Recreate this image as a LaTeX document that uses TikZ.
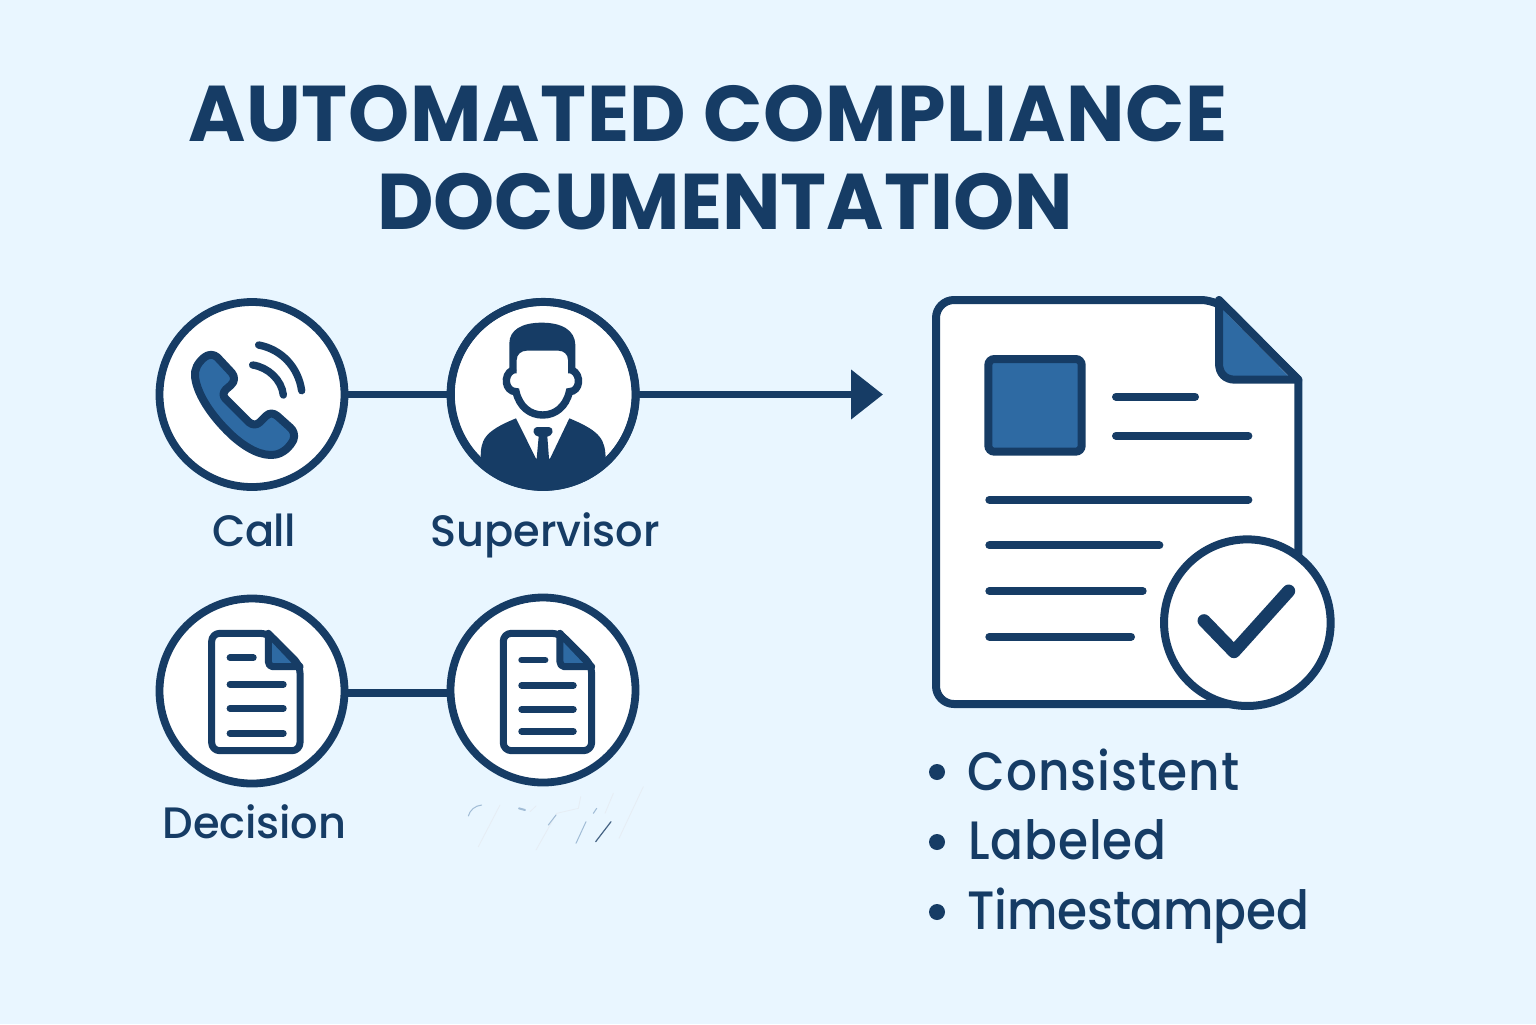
\documentclass[tikz,border=0pt]{standalone}
\usepackage{fontspec}
\setmainfont{Poppins}
\newfontfamily\titlefont{Poppins Bold}[FakeStretch=0.985]
\newfontfamily\labelfont{Poppins Medium}[FakeStretch=0.98]
\newfontfamily\itemfont{Poppins Medium}[FakeStretch=0.9]
\usetikzlibrary{arrows.meta}
\definecolor{bgc}{HTML}{E9F6FF}
\definecolor{ink}{HTML}{163C65}
\definecolor{midblue}{HTML}{2E6AA3}
\tikzset{
  px/.style={x=0.5pt,y=-0.5pt},
  zoomA/.style={x=0.16667pt,y=-0.16667pt,shift={(70pt,-140pt)}},
  zoomB/.style={x=0.16667pt,y=-0.16667pt,shift={(70pt,-290pt)}},
  zoomC/.style={x=0.16667pt,y=-0.16667pt,shift={(460pt,-142.5pt)}},
  zoomD/.style={x=0.16667pt,y=-0.16667pt,shift={(225pt,-390pt)}},
  ring/.style={circle,draw=ink,fill=white,line width=3.9pt,minimum size=92.5pt,inner sep=0pt,outer sep=0pt},
  conn/.style={draw=ink,line width=3.9pt},
  rule/.style={draw=ink,line cap=round},
  titletext/.style={text=ink,font=\titlefont\fontsize{39.5}{40}\selectfont,inner sep=0pt,anchor=base},
  lab/.style={text=ink,font=\labelfont\fontsize{22}{22}\selectfont,inner sep=0pt,anchor=base},
  itemtext/.style={text=ink,font=\itemfont\fontsize{27}{27}\selectfont,inner sep=0pt,anchor=base west},
  bullet/.style={circle,fill=ink,minimum size=8pt,inner sep=0pt},
  faintA/.style={draw=midblue!12,line width=0.4pt,line cap=round},
  faintB/.style={draw=midblue!45,line width=0.5pt,line cap=round},
  faintC/.style={draw=ink!80,line width=0.6pt,line cap=round}
}
\newcommand{\smalldoc}[1]{%
  \begin{scope}[xshift=#1]
    \draw[ink,fill=white,line width=3.5pt,rounded corners=4pt,line join=round]
      (215,160) -- (385,160) -- (480,255) -- (480,512) -- (215,512) -- cycle;
    \fill[midblue] (388,172) -- (470,255) -- (388,255) -- cycle;
    \draw[ink,line width=3.5pt,line join=round] (385,160) -- (385,245) to[out=-90,in=180] (398,260) -- (480,260) -- cycle;
  \end{scope}}
\begin{document}
\begin{tikzpicture}[px]
\useasboundingbox[fill=bgc] (0,0) rectangle (1536,1024);

\node[titletext] (title1) at (708,141) {\addfontfeature{LetterSpace=0.9}AUTOMATED COMPLIANCE};
\node[titletext] (title2) at (725,229) {DOCUMENTATION};

\node[ring] (call) at (252,394.5) {};
\node[ring] (sup)  at (543,394.5) {};
\node[ring] (dec)  at (252,691) {};
\node[ring] (rec)  at (543,690) {};
\coordinate (tip) at (883,394.5);
\draw[conn] (call) -- (sup);
\draw[conn] ([yshift=-1pt]dec.east) -- ([yshift=-1.5pt]rec.west);
\draw[conn,-{Triangle[length=16pt,width=24pt]}] (sup.east) -- (tip);

% phone
\begin{scope}[zoomA]
  \draw[ink,fill=midblue,line width=4pt,line join=round]
    (232,232) .. controls (222,222) and (205,222) .. (193,232)
    .. controls (172,250) and (163,268) .. (165,290)
    .. controls (172,350) and (225,420) .. (280,470)
    .. controls (320,505) and (365,530) .. (405,524)
    .. controls (430,520) and (450,500) .. (460,480)
    .. controls (466,465) and (460,450) .. (450,442)
    -- (412,408) .. controls (400,398) and (388,398) .. (378,408)
    -- (360,426) .. controls (350,436) and (338,436) .. (326,426)
    -- (258,358) .. controls (248,348) and (248,338) .. (258,328)
    -- (272,316) .. controls (285,305) and (285,290) .. (275,278) -- cycle;
  \draw[ink,line width=3.7pt,line cap=round] (338,255) .. controls (385,262) and (425,300) .. (430,345);
  \draw[ink,line width=3.7pt,line cap=round] (356,195) .. controls (425,208) and (475,262) .. (485,332);

  % person
  \begin{scope}
    \clip (1210,343) circle (279);
    \fill[ink] (1022,536) .. controls (1022,480) and (1030,455) .. (1128,415) -- (1188,536)
      -- (1190,536) -- (1196,470) .. controls (1180,468) and (1172,445) .. (1192,441) -- (1226,441)
      .. controls (1246,445) and (1238,468) .. (1222,470) -- (1227,536)
      -- (1230,536) -- (1288,415) .. controls (1385,455) and (1395,480) .. (1397,536)
      -- (1500,536) -- (1500,660) -- (920,660) -- (920,536) -- cycle;
  \end{scope}
  \draw[ink,line width=3.9pt] (1210,343) circle (277.5);
  \fill[ink] (1108,280) -- (1108,190) .. controls (1108,150) and (1145,128) .. (1205,128)
    .. controls (1265,128) and (1305,150) .. (1306,195) -- (1306,280) -- (1284,280) -- (1284,240)
    .. controls (1284,222) and (1270,212) .. (1255,212) -- (1160,212)
    .. controls (1145,212) and (1130,222) .. (1130,240) -- (1130,280) -- cycle;
  \draw[ink,line width=3.7pt,line cap=round]
    (1118,270) .. controls (1088,285) and (1095,335) .. (1128,335)
    .. controls (1138,380) and (1170,405) .. (1208,405)
    .. controls (1246,405) and (1278,380) .. (1288,335)
    .. controls (1320,335) and (1326,285) .. (1296,270);
\end{scope}

% small documents
\begin{scope}[zoomB]
  \smalldoc{0pt}
  \foreach \a/\b/\yy in {270/340/233,270/430/313,270/430/385,270/430/460}
    \draw[rule,line width=3.4pt] (\a,\yy) -- (\b,\yy);
  \smalldoc{145.8pt}
  \foreach \a/\b/\yy in {1145/1215/240,1145/1300/316,1145/1300/388,1145/1300/454}
    \draw[rule,line width=3.4pt] (\a,\yy) -- (\b,\yy);
\end{scope}

% smudge below the fourth circle
\begin{scope}[zoomD]
  \draw[faintB] (55,108) .. controls (60,90) and (75,77) .. (95,75);
  \draw[faintA] (85,200) -- (150,75);
  \draw[faintB,line width=1pt] (207,85) -- (225,90);
  \draw[faintA] (240,95) -- (258,78);
  \draw[faintA] (258,210) -- (320,100) -- (385,85) -- (392,50);
  \draw[faintB] (295,135) -- (318,105);
  \draw[faintB] (378,190) -- (408,125);
  \draw[faintC] (437,185) -- (483,125);
  \draw[faintB] (430,100) -- (440,85);
  \draw[faintA] (465,100) -- (490,40);
  \draw[faintA] (507,175) -- (580,20);
\end{scope}

% large document
\begin{scope}[zoomC]
  \draw[ink,fill=white,line width=4pt,line join=round,rounded corners=9pt]
    (1000,1257) -- (48,1257) -- (48,45) -- (897,45) [sharp corners] -- (1135,285) -- (1135,1000) -- cycle;
  \fill[midblue] (905,70) -- (1110,278) -- (945,278) .. controls (920,278) and (905,260) .. (905,235) -- cycle;
  \draw[ink,line width=4pt,line join=round] (897,45) -- (897,235) .. controls (897,265) and (915,284) .. (945,284) -- (1135,284) -- cycle;
  \draw[ink,fill=midblue,line width=4pt,rounded corners=3pt] (205,222) rectangle (485,500);
  \foreach \a/\b/\yy in {588/825/335,588/985/452,208/985/644,208/718/781,208/668/918,208/633/1055}
    \draw[rule,line width=4pt] (\a,\yy) -- (\b,\yy);
  \node[circle,draw=ink,fill=white,line width=4pt,minimum size=83.3pt,inner sep=0pt] (check) at (982,1013) {};
  \draw[ink,line width=6.5pt,line cap=round,line join=round] (852,1007) -- (942,1100) -- (1106,918);
\end{scope}

% labels
\node[lab] (l1) at (254,546) {\addfontfeature{LetterSpace=-1.5}Call};
\node[lab] (l2) at (545,546) {Supervisor};
\node[lab] (l3) at (254.5,838) {\addfontfeature{LetterSpace=-0.3}Decision};

\node[bullet] (b1) at (937,772) {};
\node[bullet] (b2) at (937,842) {};
\node[bullet] (b3) at (937,912) {};
\node[itemtext] (i1) at (967,790) {\addfontfeature{LetterSpace=2}Consistent};
\node[itemtext] (i2) at (968,859) {\addfontfeature{LetterSpace=1.5}Labeled};
\node[itemtext] (i3) at (967,929) {\addfontfeature{LetterSpace=-0.4}Timestamped};
\end{tikzpicture}
\end{document}
